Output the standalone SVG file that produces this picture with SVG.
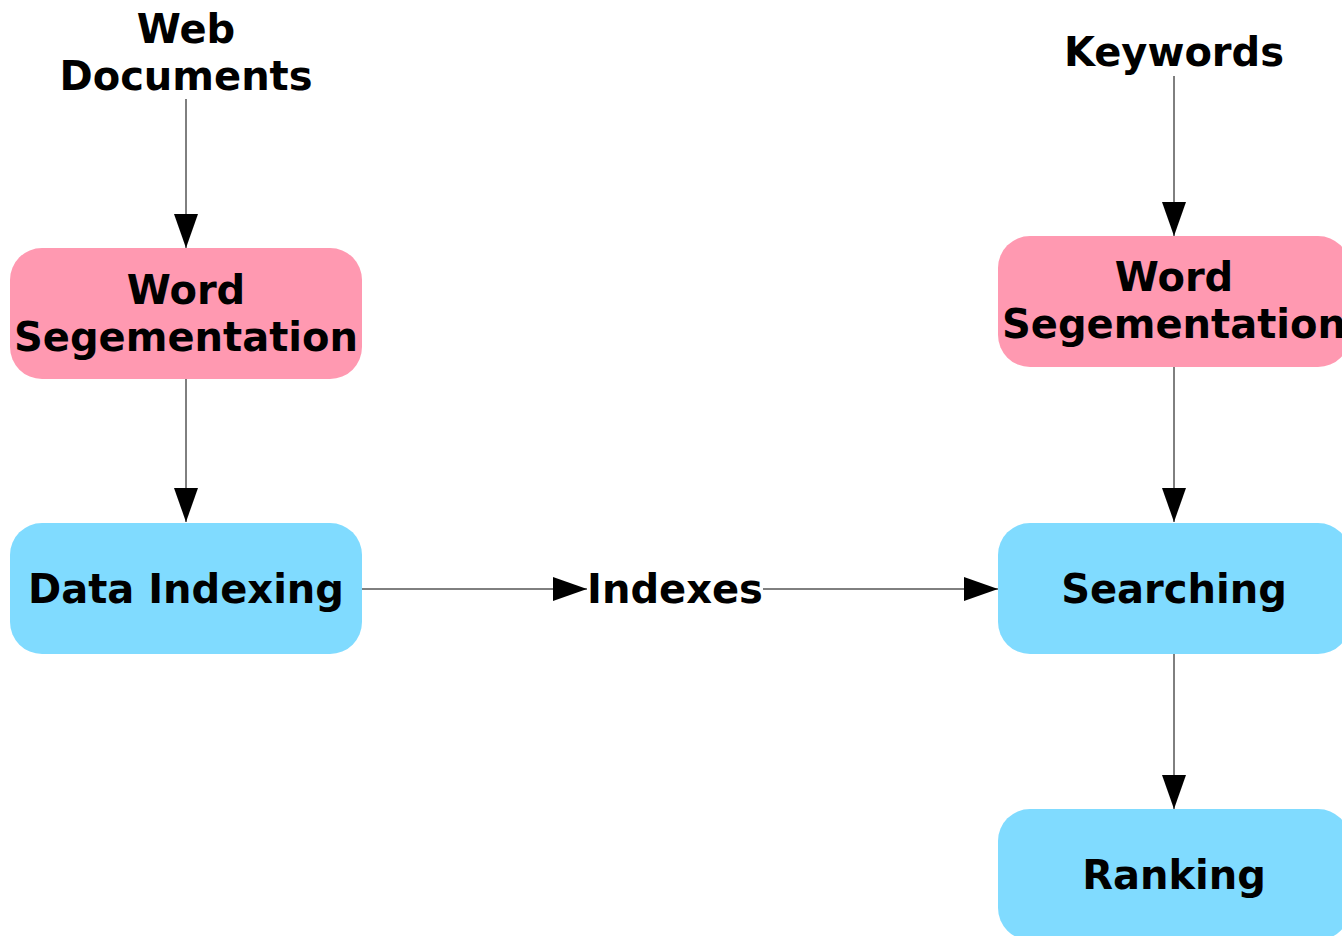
<svg xmlns="http://www.w3.org/2000/svg" width="1342" height="936" viewBox="0 0 1342 936">
<style>
text{font-family:"DejaVu Sans",sans-serif;font-weight:bold;font-size:40px;text-anchor:middle;fill:#000}
.pink{fill:#FF99B1}
.blue{fill:#80DBFF}
.edge{stroke:#000;stroke-width:1;fill:none;marker-end:url(#ah)}
</style>
<defs>
<marker id="ah" markerUnits="userSpaceOnUse" markerWidth="34" markerHeight="24" refX="34" refY="12" orient="auto">
<path d="M0,0 L34,12 L0,24 Z" fill="#000"/>
</marker>
</defs>
<rect width="1342" height="936" fill="#fff"/>
<g id="web-docs"><text x="186" y="43">Web</text><text x="186" y="90">Documents</text></g>
<g id="keywords"><text x="1174" y="66">Keywords</text></g>
<g id="ws-left"><rect class="pink" x="10" y="248" width="352" height="131" rx="32"/><text x="186" y="304">Word</text><text x="186" y="351">Segementation</text></g>
<g id="ws-right"><rect class="pink" x="998" y="236" width="352" height="131" rx="32"/><text x="1174" y="291">Word</text><text x="1174" y="338">Segementation</text></g>
<g id="data-indexing"><rect class="blue" x="10" y="523" width="352" height="131" rx="32"/><text x="186" y="603">Data Indexing</text></g>
<g id="indexes"><text x="675" y="603">Indexes</text></g>
<g id="searching"><rect class="blue" x="998" y="523" width="352" height="131" rx="32"/><text x="1174" y="603">Searching</text></g>
<g id="ranking"><rect class="blue" x="998" y="809" width="352" height="131" rx="32"/><text x="1174" y="889">Ranking</text></g>
<g id="connectors">
<line class="edge" x1="186" y1="99" x2="186" y2="248"/>
<line class="edge" x1="186" y1="379" x2="186" y2="522"/>
<line class="edge" x1="1174" y1="76" x2="1174" y2="236"/>
<line class="edge" x1="1174" y1="367" x2="1174" y2="522"/>
<line class="edge" x1="1174" y1="654" x2="1174" y2="809"/>
<line class="edge" x1="362" y1="589" x2="587" y2="589"/>
<line class="edge" x1="763" y1="589" x2="998" y2="589"/>
</g>
</svg>
